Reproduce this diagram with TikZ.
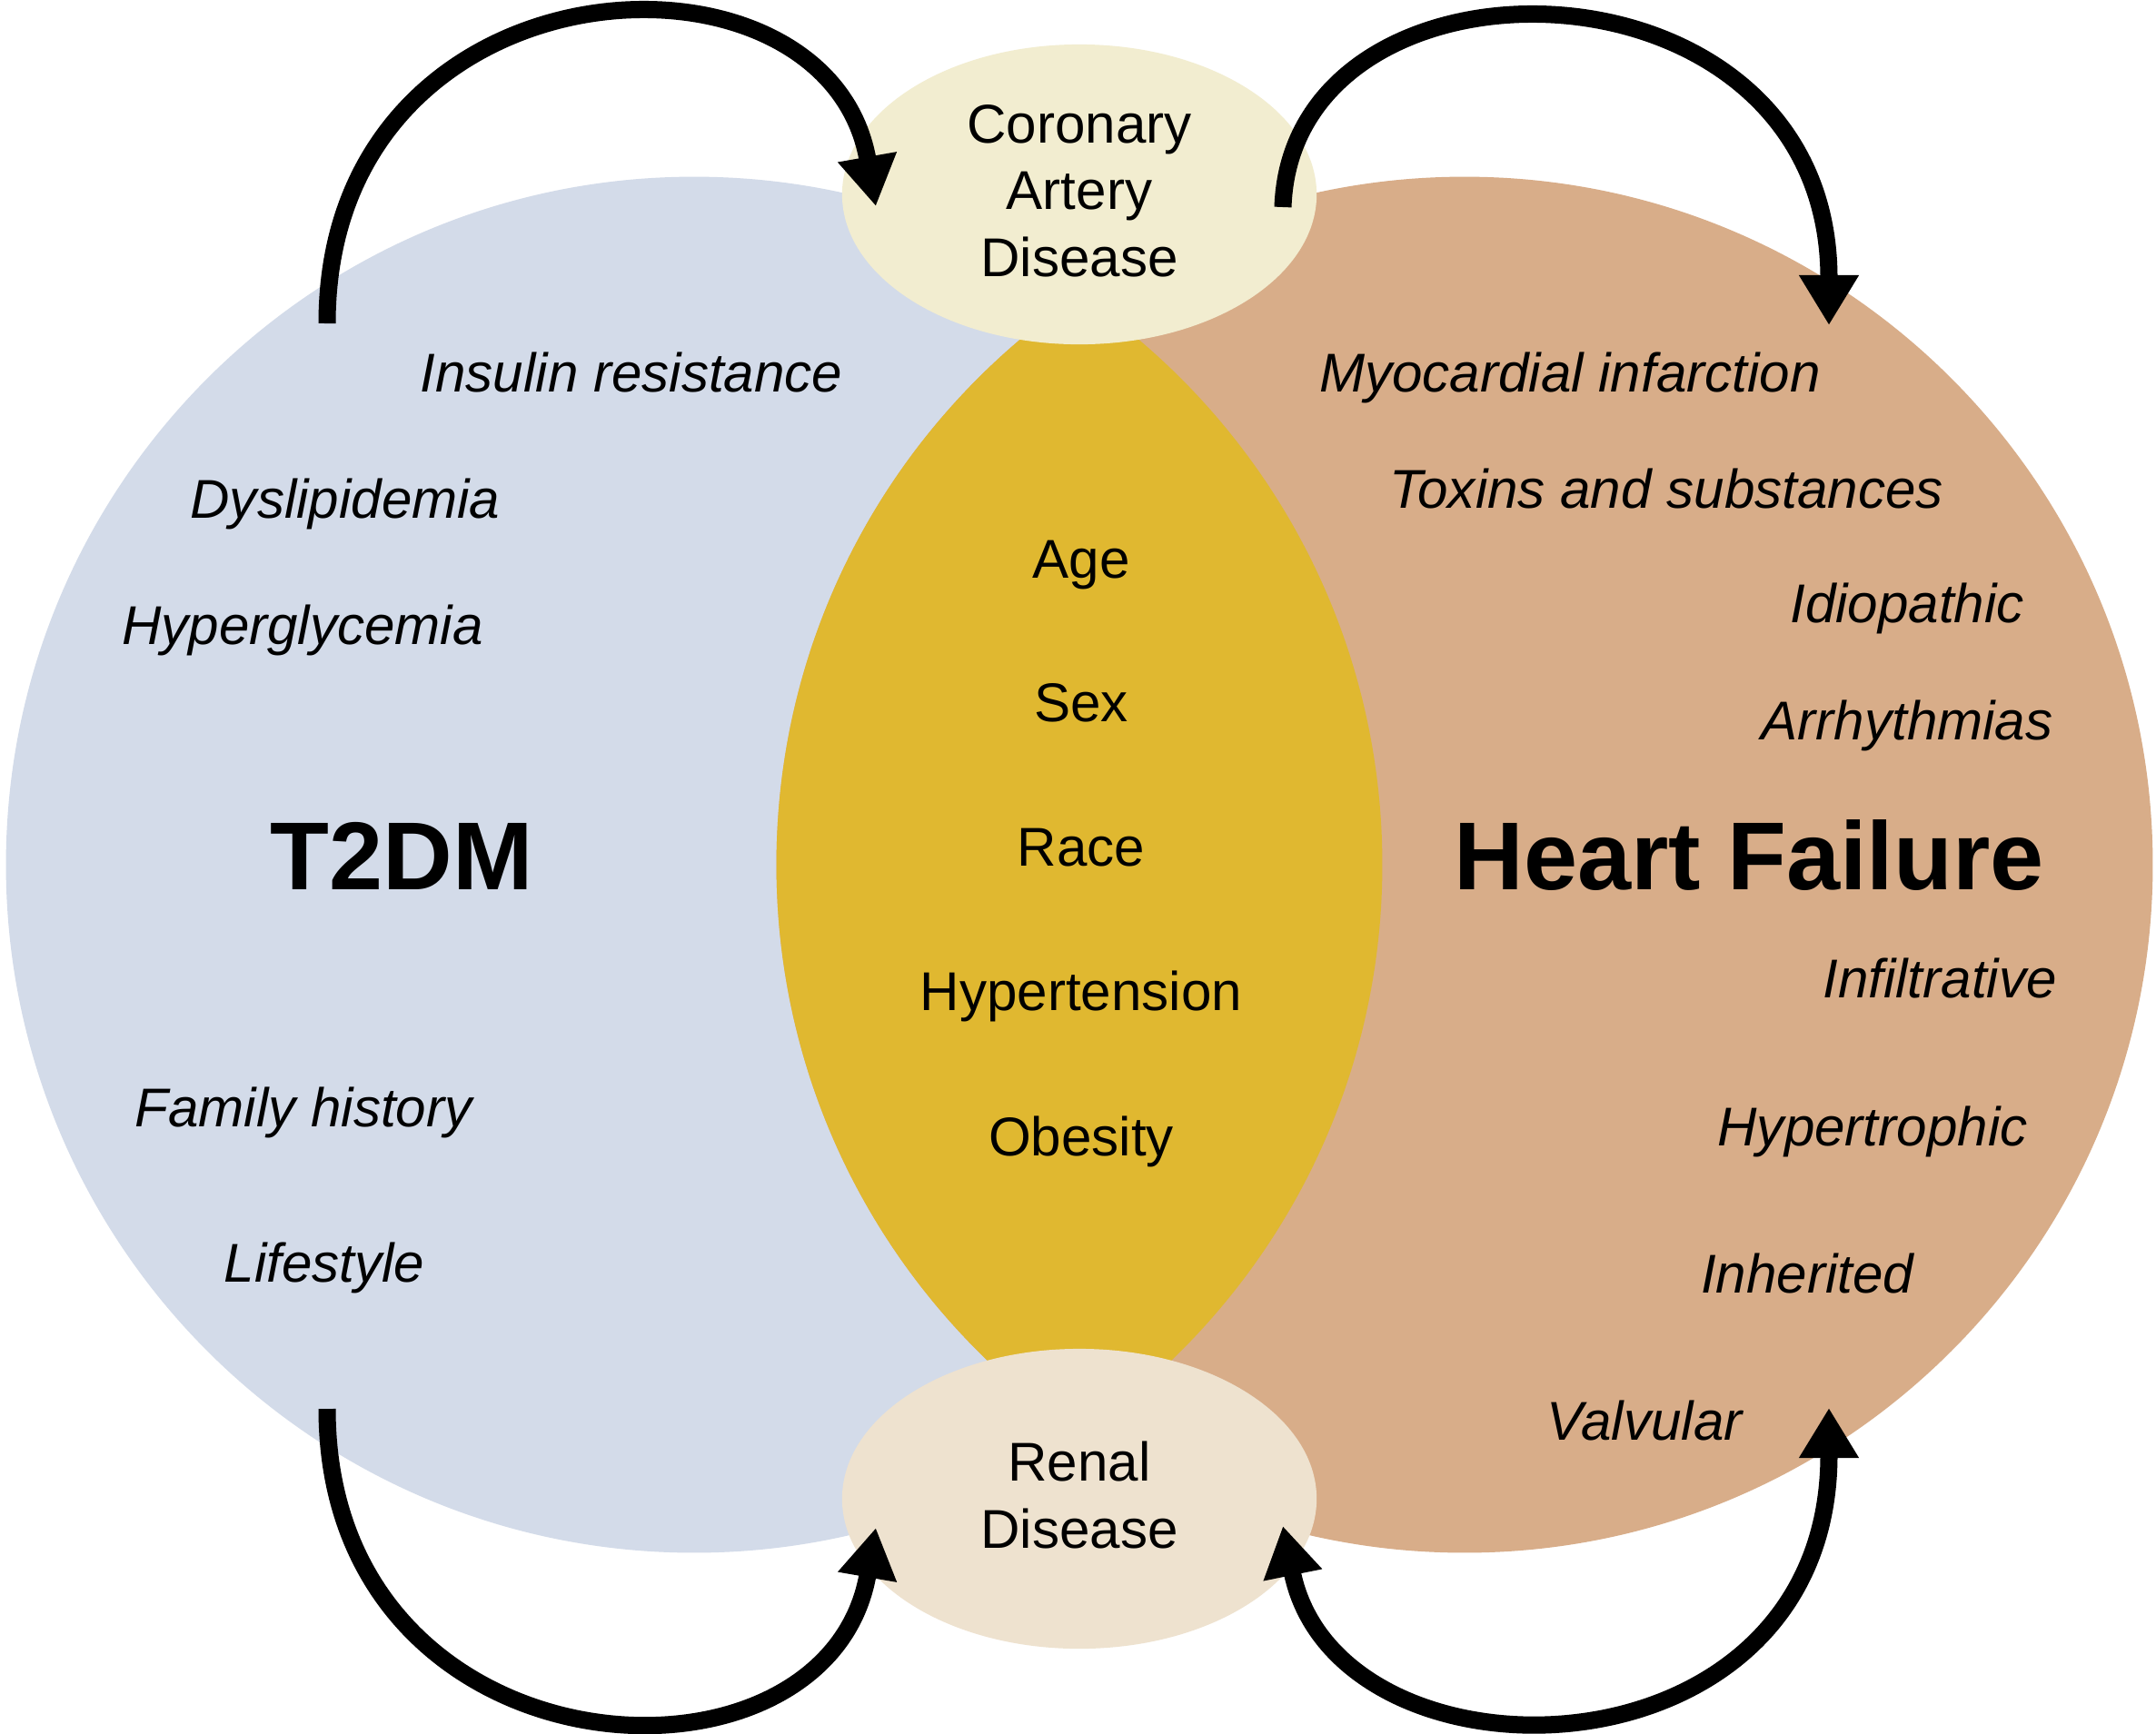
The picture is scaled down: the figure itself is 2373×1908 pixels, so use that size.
\documentclass[tikz,border=0pt]{standalone}
\usepackage{fontspec}
\setmainfont{Liberation Sans}
\usetikzlibrary{shapes.geometric,arrows.meta}
\definecolor{tdblue}{RGB}{211,219,233}
\definecolor{hftan}{RGB}{216,173,137}
\definecolor{lensgold}{RGB}{224,184,48}
\definecolor{cadfill}{RGB}{242,237,208}
\definecolor{renfill}{RGB}{238,226,207}
\tikzset{
  riskitem/.style={anchor=base, inner sep=0pt, font=\fontsize{17.1pt}{20.9pt}\selectfont\itshape},
  shareditem/.style={anchor=base, inner sep=0pt, font=\fontsize{17.1pt}{20.9pt}\selectfont},
  bigtitle/.style={anchor=base, inner sep=0pt, font=\fontsize{30.2pt}{34pt}\selectfont\bfseries},
  bubble/.style={ellipse, minimum width=5.22cm, minimum height=3.30cm, inner sep=0pt,
    align=center, text depth=0.09cm, font=\fontsize{17.1pt}{20.9pt}\selectfont},
  bigarrow/.style={line width=0.19cm, -{Triangle[length=0.55cm,width=0.62cm]}},
  bigarrowboth/.style={line width=0.19cm, {Triangle[length=0.55cm,width=0.62cm]}-{Triangle[length=0.55cm,width=0.62cm]}},
}
\begin{document}
\begin{tikzpicture}[x=0.01cm,y=-0.01cm]
\useasboundingbox (0,0) rectangle (2373,1908);
\fill[white] (0,0) rectangle (2373,1908);
% Venn circles
\fill[tdblue] (764,952) circle[radius=7.57cm];
\fill[hftan] (1612,952) circle[radius=7.57cm];
\begin{scope}
  \clip (764,952) circle[radius=7.57cm];
  \fill[lensgold] (1612,952) circle[radius=7.57cm];
\end{scope}
% ellipses
\node[bubble, fill=cadfill] (cad) at (1188,214) {Coronary\\Artery\\Disease};
\node[bubble, fill=renfill] (renal) at (1188,1650) {Renal\\Disease};
% T2DM side
\node[riskitem] (ir) at (695,431) {Insulin resistance};
\node[riskitem] (dys) at (380,570) {Dyslipidemia};
\node[riskitem] (hgl) at (333,709) {Hyperglycemia};
\node[bigtitle] (t2dm) at (442,979) {T2DM};
\node[riskitem] (fam) at (334,1240) {Family history};
\node[riskitem] (life) at (357,1411) {Lifestyle};
% HF side
\node[riskitem] (mi) at (1728,431) {Myocardial infarction};
\node[riskitem] (tox) at (1834,559) {Toxins and substances};
\node[riskitem] (idio) at (2099,685) {Idiopathic};
\node[riskitem] (arr) at (2099,814) {Arrhythmias};
\node[bigtitle] (hf) at (1925,979) {Heart Failure};
\node[riskitem] (infil) at (2135,1098) {Infiltrative};
\node[riskitem] (hyptr) at (2061,1261) {Hypertrophic};
\node[riskitem] (inh) at (1989,1423) {Inherited};
\node[riskitem] (valv) at (1810,1585) {Valvular};
% shared
\node[shareditem] (age) at (1190,636) {Age};
\node[shareditem] (sex) at (1190,794) {Sex};
\node[shareditem] (race) at (1190,953) {Race};
\node[shareditem] (htn) at (1190,1112) {Hypertension};
\node[shareditem] (obe) at (1190,1272) {Obesity};
% arrow end points
\coordinate (tdTop) at (360,356);
\coordinate (cadIn) at (964,227);
\coordinate (cadOut) at (1412,228);
\coordinate (hfTop) at (2013,358);
\coordinate (tdBot) at (360,1551);
\coordinate (renIn) at (964,1682);
\coordinate (renOut) at (1412,1680);
\coordinate (hfBot) at (2013,1550);
% arrows
\draw[bigarrow] (tdTop) .. controls +(0,-408) and +(-54,-308) .. (cadIn);
\draw[bigarrow] (cadOut) .. controls +(10,-300) and +(0,-420) .. (hfTop);
\draw[bigarrow] (tdBot) .. controls +(0,410) and +(-54,311) .. (renIn);
\draw[bigarrowboth] (renOut) .. controls +(60,297) and +(0,419) .. (hfBot);
\end{tikzpicture}
\end{document}
